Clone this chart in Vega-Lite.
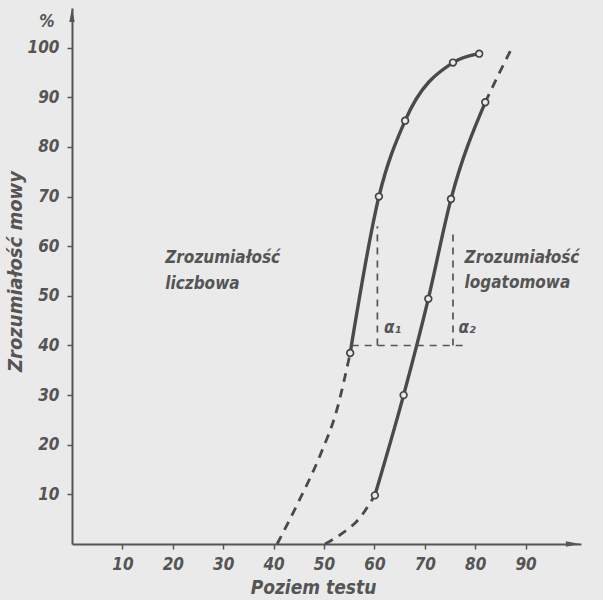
{
  "$schema": "https://vega.github.io/schema/vega-lite/v6.json",
  "width": 509,
  "height": 536,
  "autosize": "none",
  "padding": {"left": 72, "top": 8, "right": 22, "bottom": 56},
  "background": "#eaeaea",
  "config": {
    "view": {"stroke": null},
    "font": "DejaVu Sans Condensed",
    "axis": {
      "grid": false,
      "domainColor": "#555555",
      "domainWidth": 2,
      "tickColor": "#555555",
      "tickWidth": 1.5,
      "tickSize": 5,
      "labelFont": "DejaVu Sans Condensed",
      "labelFontStyle": "italic",
      "labelFontWeight": "bold",
      "labelFontSize": 17,
      "labelColor": "#555555",
      "titleFont": "DejaVu Sans Condensed",
      "titleFontStyle": "italic",
      "titleFontWeight": "bold",
      "titleColor": "#555555"
    }
  },
  "datasets": {
    "solid": [
      {"curve": "liczbowa", "x": 55.2, "y": 38.5},
      {"curve": "liczbowa", "x": 60.9, "y": 70},
      {"curve": "liczbowa", "x": 66.1, "y": 85.3},
      {"curve": "liczbowa", "x": 75.6, "y": 97},
      {"curve": "liczbowa", "x": 80.8, "y": 98.8},
      {"curve": "logatomowa", "x": 60.1, "y": 9.8},
      {"curve": "logatomowa", "x": 65.8, "y": 30},
      {"curve": "logatomowa", "x": 70.7, "y": 49.4},
      {"curve": "logatomowa", "x": 75.2, "y": 69.5},
      {"curve": "logatomowa", "x": 82, "y": 89}
    ],
    "dashed": [
      {"seg": "a", "x": 40.7, "y": 0},
      {"seg": "a", "x": 45.0, "y": 8.6},
      {"seg": "a", "x": 49.2, "y": 17.8},
      {"seg": "a", "x": 52.6, "y": 27.2},
      {"seg": "a", "x": 55.2, "y": 38.5},
      {"seg": "b", "x": 50.2, "y": 0},
      {"seg": "b", "x": 53.4, "y": 2.0},
      {"seg": "b", "x": 56.8, "y": 4.9},
      {"seg": "b", "x": 60.1, "y": 9.8},
      {"seg": "c", "x": 82, "y": 89},
      {"seg": "c", "x": 84.6, "y": 94.5},
      {"seg": "c", "x": 87.2, "y": 99.8}
    ],
    "guides": [
      {"seg": "h", "x": 55.5, "y": 40},
      {"seg": "h", "x": 77.6, "y": 40},
      {"seg": "v1", "x": 60.6, "y": 40},
      {"seg": "v1", "x": 60.6, "y": 64},
      {"seg": "v2", "x": 75.6, "y": 40},
      {"seg": "v2", "x": 75.6, "y": 63}
    ],
    "labels": [
      {"x": 18.5, "y": 57.7, "t": "Zrozumiałość"},
      {"x": 18.5, "y": 52.3, "t": "liczbowa"},
      {"x": 77.9, "y": 57.7, "t": "Zrozumiałość"},
      {"x": 77.9, "y": 52.6, "t": "logatomowa"},
      {"x": 61.9, "y": 43.6, "t": "α₁"},
      {"x": 76.7, "y": 43.6, "t": "α₂"},
      {"x": -6.5, "y": 105.2, "t": "%"}
    ],
    "arrowUp": [{"x": 0, "y": 106.6}],
    "arrowRight": [{"x": 99.4, "y": 0}]
  },
  "encoding": {
    "x": {
      "field": "x",
      "type": "quantitative",
      "scale": {"domain": [0, 101], "nice": false, "zero": false},
      "axis": {
        "values": [10, 20, 30, 40, 50, 60, 70, 80, 90],
        "labelPadding": 7,
        "title": "Poziem testu",
        "titleFontSize": 19,
        "titleX": 241,
        "titleY": 49,
        "titleAlign": "center",
        "titleBaseline": "alphabetic"
      }
    },
    "y": {
      "field": "y",
      "type": "quantitative",
      "scale": {"domain": [0, 108], "nice": false, "zero": false},
      "axis": {
        "values": [10, 20, 30, 40, 50, 60, 70, 80, 90, 100],
        "labelPadding": 8,
        "title": "Zrozumiałość mowy",
        "titleFontSize": 20,
        "titleX": -57,
        "titleY": 263,
        "titleAngle": -90,
        "titleAlign": "center",
        "titleBaseline": "middle"
      }
    }
  },
  "layer": [
    {
      "data": {"name": "solid"},
      "mark": {"type": "line", "interpolate": "monotone", "strokeWidth": 3.4, "color": "#4a4a4a"},
      "encoding": {"detail": {"field": "curve"}}
    },
    {
      "data": {"name": "dashed"},
      "mark": {"type": "line", "interpolate": "monotone", "strokeWidth": 2.8, "strokeDash": [9, 7], "color": "#4a4a4a"},
      "encoding": {"detail": {"field": "seg"}}
    },
    {
      "data": {"name": "guides"},
      "mark": {"type": "line", "strokeWidth": 1.7, "strokeDash": [7, 6], "color": "#555555"},
      "encoding": {"detail": {"field": "seg"}}
    },
    {
      "data": {"name": "solid"},
      "mark": {"type": "point", "filled": false, "fill": "#eaeaea", "fillOpacity": 1, "stroke": "#444444", "strokeWidth": 1.7, "size": 45, "opacity": 1}
    },
    {
      "data": {"name": "labels"},
      "mark": {"type": "text", "align": "left", "baseline": "middle", "font": "DejaVu Sans Condensed", "fontStyle": "italic", "fontWeight": "bold", "fontSize": 17, "color": "#555555"},
      "encoding": {"text": {"field": "t"}}
    },
    {
      "data": {"name": "arrowUp"},
      "mark": {"type": "point", "shape": "M0,-1L-0.38,1L0.38,1Z", "filled": true, "color": "#555555", "size": 200, "opacity": 1}
    },
    {
      "data": {"name": "arrowRight"},
      "mark": {"type": "point", "shape": "M1,0L-1,-0.38L-1,0.38Z", "filled": true, "color": "#555555", "size": 200, "opacity": 1}
    }
  ]
}
